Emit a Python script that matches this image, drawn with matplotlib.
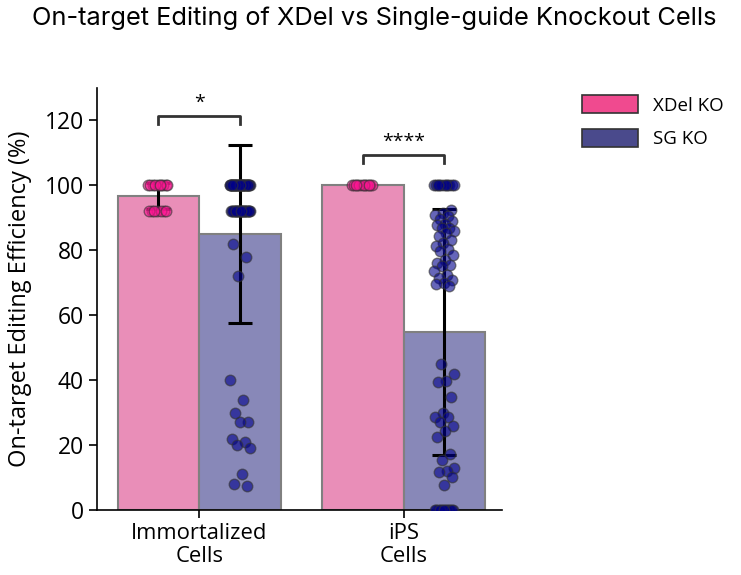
import numpy as np
import matplotlib.pyplot as plt
from matplotlib.patches import Patch

# cell types and groups
cell_types = ['Immortalized\nCells', 'iPS\nCells']
groups = ['XDel KO', 'SG KO']

# per-clone editing efficiency (%)
immort_xdel = [100] * 10 + [92] * 7
immort_sg = ([100] * 40 + [92] * 25 + [82, 78, 72]
             + [40, 34, 30, 27, 27, 22, 21, 20, 19, 11, 8, 7.5])
ips_xdel = [100] * 12
ips_sg = ([100] * 11
          + [92.5, 91.5, 91, 90.5, 89.5, 88.9, 88, 87.9, 87, 86.9, 86, 85.3, 84.3,
             83.3, 82.3, 81.2, 80.5, 79.7, 78.7, 77.1, 76, 75.6, 75.1, 73.5, 72.5,
             71.5, 70.9, 69.9, 69.5, 68.9]
          + [45, 42, 39.6, 39.4, 34.8, 29.8, 28.8, 28.8, 27.2, 25.9, 24.2, 22.4,
             17.3, 15.4, 12.9, 12.1, 11.8, 10.3, 7.7]
          + [0] * 13)

data = {
    'XDel KO': [immort_xdel, ips_xdel],
    'SG KO': [immort_sg, ips_sg],
}

# significance annotations
sig_labels = ['*', '****']
sig_heights = [121.5, 109.5]

bar_colors = {'XDel KO': '#e98eb8', 'SG KO': '#8888b8'}
legend_colors = {'XDel KO': '#f04a8f', 'SG KO': '#4a4a8c'}
point_colors = {'XDel KO': '#ff1493', 'SG KO': '#00008b'}

plt.rcParams['font.family'] = ['Open Sans', 'DejaVu Sans']

fig = plt.figure(figsize=(7.41, 5.75), dpi=100)
ax = fig.add_axes([0.131, 0.113, 0.546, 0.734])

width = 0.4
x = np.arange(len(cell_types))
for gi, g in enumerate(groups):
    offset = (gi - 0.5) * width
    means = [np.mean(v) for v in data[g]]
    sds = [np.std(v, ddof=1) for v in data[g]]
    ax.bar(x + offset, means, width=width, color=bar_colors[g],
           edgecolor='#808080', linewidth=1.5, zorder=1)
    for ci, vals in enumerate(data[g]):
        if sds[ci] > 0:
            ax.errorbar(x[ci] + offset, means[ci], yerr=sds[ci], color='black',
                        linewidth=2.2, capsize=8.5, capthick=2.2, zorder=2)
        n = len(vals)
        jit = ((np.arange(n) * 0.618034) % 1 - 0.5) * 0.1
        ax.scatter(x[ci] + offset + jit, vals, s=58, color=point_colors[g],
                   alpha=0.6, edgecolors='#333333', linewidths=1.0, zorder=3)

# significance brackets
for ci in range(len(cell_types)):
    h = sig_heights[ci]
    ax.plot([x[ci] - 0.2, x[ci] - 0.2, x[ci] + 0.2, x[ci] + 0.2],
            [h - 2.5, h, h, h - 2.5], color='#333333', linewidth=2, zorder=4)
    ax.text(x[ci], h + 1.2, sig_labels[ci], ha='center', va='bottom', fontsize=14)

ax.set_xlim(-0.5, 1.48)
ax.set_ylim(0, 130)
ax.set_yticks([0, 20, 40, 60, 80, 100, 120])
ax.set_xticks(x)
ax.set_xticklabels(cell_types, fontsize=15.8, linespacing=1.1)
ax.tick_params(axis='y', labelsize=16.5, width=1.2, length=6)
ax.tick_params(axis='x', width=1.2, length=6)
ax.set_ylabel('On-target Editing Efficiency (%)', fontsize=17, labelpad=9)
ax.spines['top'].set_visible(False)
ax.spines['right'].set_visible(False)
ax.spines['left'].set_linewidth(1.2)
ax.spines['bottom'].set_linewidth(1.2)

handles = [Patch(facecolor=legend_colors[g], edgecolor='#333333', linewidth=1.2)
           for g in groups]
fig.legend(handles, groups, loc='upper left', bbox_to_anchor=(0.785, 0.835),
           frameon=False, fontsize=13.5, handlelength=3.0, handleheight=1.15,
           labelspacing=0.75, handletextpad=0.8, borderpad=0, borderaxespad=0)

fig.text(0.505, 0.988, 'On-target Editing of XDel vs Single-guide Knockout Cells',
         ha='center', va='top', fontsize=18.3, family=['Inter', 'DejaVu Sans'])

fig.savefig('out.png', dpi=100)
